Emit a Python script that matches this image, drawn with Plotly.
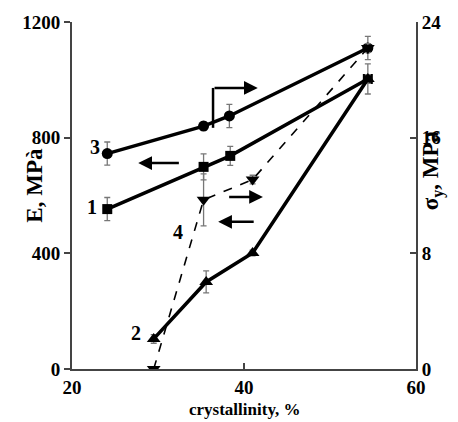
import plotly.graph_objects as go

# Data
x1 = [24.1, 35.3, 38.4, 54.4]          # series 1, squares, E (MPa)
e1 = [553, 699, 737, 1003]
e1_err = [40, 45, 33, 52]

x2 = [29.5, 35.6, 41.0, 54.4]          # series 2, up triangles, E (MPa)
e2 = [104, 301, 401, 1003]
e2_err = [15, 38, 10, 15]

x3 = [24.1, 35.3, 38.3, 54.4]          # series 3, circles, sigma_y (MPa)
s3 = [14.9, 16.8, 17.5, 22.2]
s3_err = [0.8, 0.3, 0.8, 0.8]

x4 = [29.5, 35.3, 41.0, 54.4]          # series 4, down triangles, sigma_y (MPa)
s4 = [0.0, 11.7, 13.1, 22.2]
s4_err = [0.0, 1.8, 0.3, 0.3]

x_ticks = [20, 40, 60]
y_ticks = [0, 400, 800, 1200]
y2_ticks = [0, 8, 16, 24]

# curve number labels: (text, x, y)
labels = [("3", 22.7, 768), ("1", 22.3, 560), ("2", 27.4, 125), ("4", 32.3, 474)]
# arrows: (x_tail, x_head, y)
arrows = [(32.6, 27.7, 712), (38.1, 42.2, 595), (41.3, 37.0, 509)]

FONT = "Liberation Serif"
err_style = dict(type="data", thickness=1.3, width=3, color="#777777")

def f(size):
    return dict(family=FONT, size=size, color="black", weight="bold")

fig = go.Figure()
fig.add_trace(go.Scatter(x=x1, y=e1, mode="lines+markers",
                         line=dict(color="black", width=3.5),
                         marker=dict(symbol="square", size=10, color="black"),
                         error_y=dict(array=e1_err, **err_style)))
fig.add_trace(go.Scatter(x=x2, y=e2, mode="lines+markers",
                         line=dict(color="black", width=3.5),
                         marker=dict(symbol="triangle-up", size=12, color="black"),
                         error_y=dict(array=e2_err, **err_style)))
fig.add_trace(go.Scatter(x=x3, y=s3, mode="lines+markers", yaxis="y2",
                         line=dict(color="black", width=3.5),
                         marker=dict(symbol="circle", size=11, color="black"),
                         error_y=dict(array=s3_err, **err_style)))
fig.add_trace(go.Scatter(x=x4, y=s4, mode="lines+markers", yaxis="y2",
                         line=dict(color="black", width=1.6, dash="dash"),
                         marker=dict(symbol="triangle-down", size=12, color="black"),
                         error_y=dict(array=s4_err, **err_style)))

for t, lx, ly in labels:
    fig.add_annotation(x=lx, y=ly, text=t, showarrow=False, font=f(20))

for xt, xh, ya in arrows:
    fig.add_annotation(x=xh, y=ya, ax=xt, ay=ya, axref="x", ayref="y",
                       xref="x", yref="y", text="", showarrow=True,
                       arrowhead=2, arrowsize=1.1, arrowwidth=2.5, arrowcolor="black")

# bracket arrow for series 3 (right axis)
fig.add_shape(type="line", x0=36.4, x1=36.4, y0=834, y1=972,
              line=dict(color="black", width=2.5), xref="x", yref="y")
fig.add_annotation(x=41.6, y=972, ax=36.4, ay=972, axref="x", ayref="y",
                   xref="x", yref="y", text="", showarrow=True,
                   arrowhead=2, arrowsize=1.1, arrowwidth=2.5, arrowcolor="black")

# axis titles
fig.add_annotation(x=-0.151, y=0.53, xref="paper", yref="paper", text="E, MPà",
                   textangle=-90, showarrow=False, font=f(23))
fig.add_annotation(x=1.095, y=0.573, xref="paper", yref="paper",
                   text="σ<sub>y</sub>, MPa", textangle=-90, showarrow=False, font=f(23))
fig.add_annotation(x=0.5, y=-0.118, xref="paper", yref="paper",
                   text="crystallinity, %", showarrow=False, yanchor="middle", font=f(17))

axis_common = dict(showline=True, linecolor="#444", linewidth=2, showgrid=False,
                   zeroline=False, ticklen=6, tickwidth=1.5, tickfont=f(19),
                   automargin=False)

fig.update_layout(
    width=450, height=414,
    margin=dict(l=64, r=42, t=14, b=53),
    plot_bgcolor="white", paper_bgcolor="white",
    showlegend=False,
    font=dict(family=FONT, color="black"),
    xaxis=dict(range=[20, 60], tickvals=x_ticks, ticks="inside", **axis_common),
    yaxis=dict(range=[0, 1200], tickvals=y_ticks, ticks="outside", **axis_common),
    yaxis2=dict(range=[0, 24], tickvals=y2_ticks, ticks="inside",
                overlaying="y", side="right", **axis_common),
)

fig.write_html("out.html")
